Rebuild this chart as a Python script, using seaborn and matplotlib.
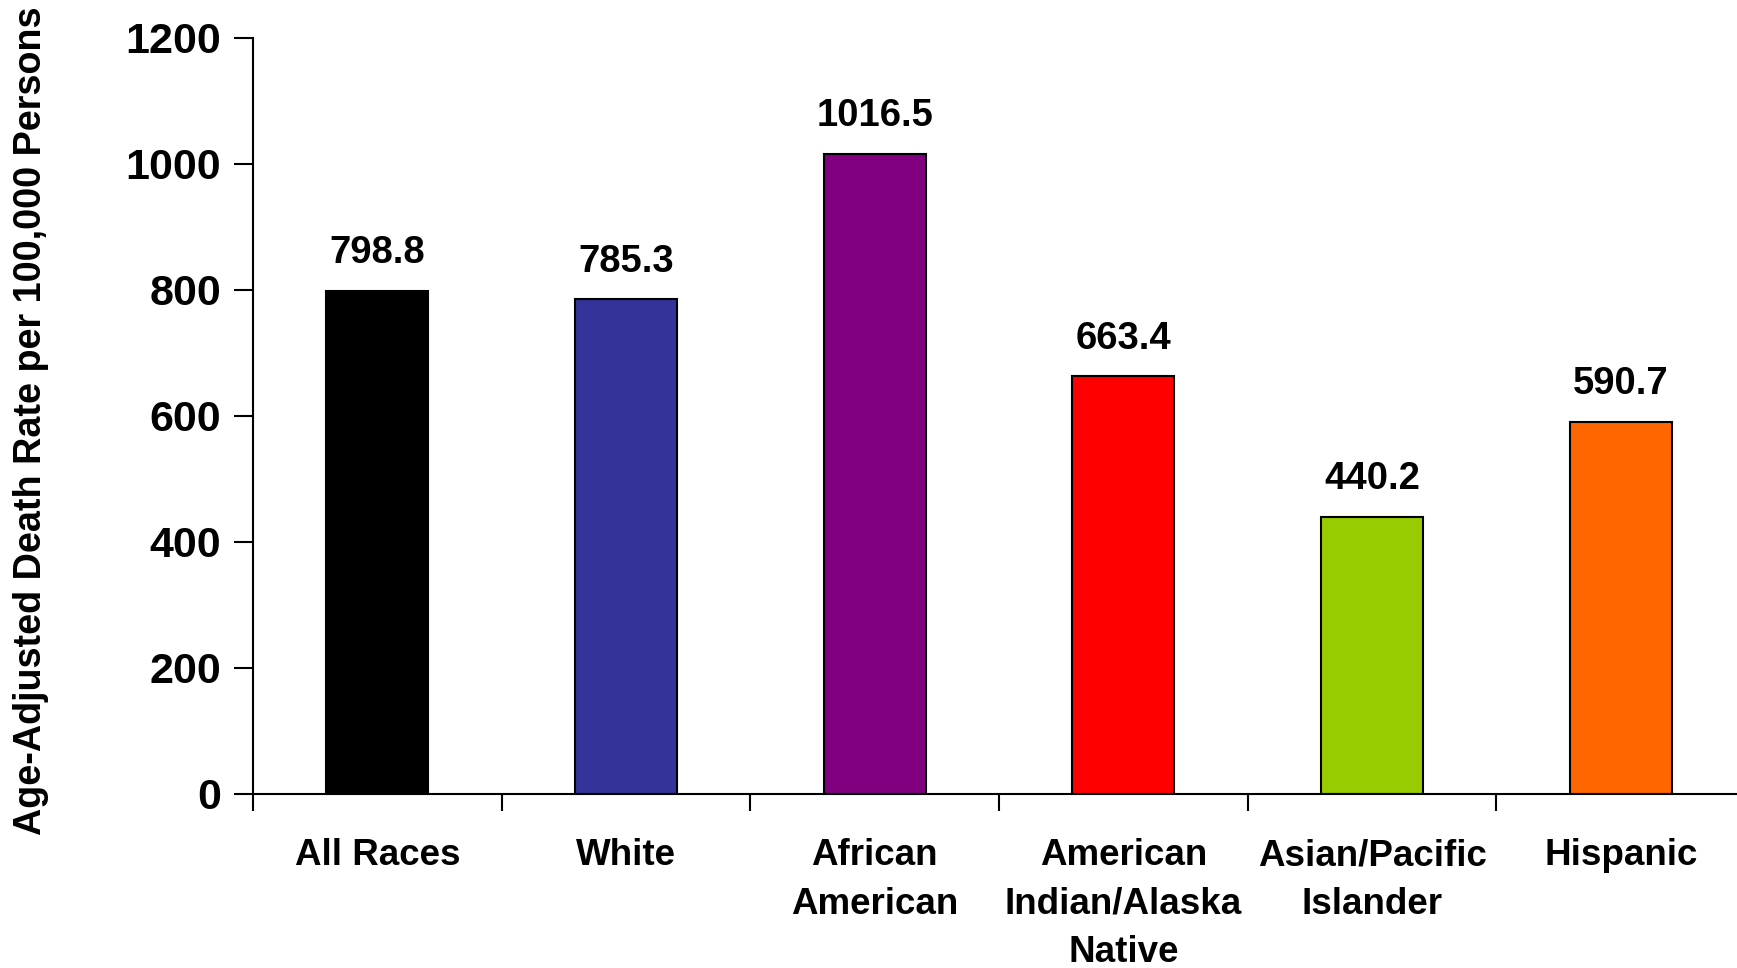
import matplotlib
matplotlib.use("Agg")
import matplotlib.pyplot as plt
import seaborn as sns
import pandas as pd

categories = ["All Races", "White", "African\nAmerican", "American\nIndian/Alaska\nNative",
              "Asian/Pacific\nIslander", "Hispanic"]
rates = [798.8, 785.3, 1016.5, 663.4, 440.2, 590.7]
bar_colors = ["#000000", "#333399", "#800080", "#FF0000", "#99CC00", "#FF6600"]
y_ticks = [0, 200, 400, 600, 800, 1000, 1200]

sns.set_theme(style="white")
plt.rcParams["font.family"] = ["Liberation Sans", "DejaVu Sans"]
plt.rcParams["font.weight"] = "bold"
plt.rcParams["text.color"] = "black"
plt.rcParams["axes.labelcolor"] = "black"
plt.rcParams["xtick.color"] = "black"
plt.rcParams["ytick.color"] = "black"

df = pd.DataFrame({"group": categories, "rate": rates})

fig = plt.figure(figsize=(17.37, 9.68), dpi=100)
ax = fig.add_axes([0.1457, 0.1798, 0.859, 0.781])

sns.barplot(data=df, x="group", y="rate", hue="group", palette=bar_colors,
            order=categories, hue_order=categories, dodge=False, legend=False,
            width=0.41, edgecolor="black", linewidth=1.5, saturation=1, ax=ax)

ax.set_ylim(0, 1200)
ax.set_xlim(-0.5, len(categories) - 0.5)
ax.set_yticks(y_ticks)
ax.set_yticklabels([str(v) for v in y_ticks], fontsize=31, fontweight="bold", color="black")

# category boundaries carry the tick marks, labels sit centred on the bars
ax.set_xticks([i + 0.5 for i in range(-1, len(categories))])
ax.set_xticklabels([])
ax.set_xticks(range(len(categories)), minor=True)
ax.set_xticklabels(categories, minor=True, fontsize=26.5, fontweight="bold",
                   linespacing=1.49, va="top", color="black")
ax.tick_params(axis="x", which="minor", length=0, pad=32)
ax.tick_params(axis="x", which="major", direction="out", length=12, width=1.5,
               color="black", bottom=True)
ax.tick_params(axis="y", direction="out", length=14, width=1.5, color="black",
               left=True, pad=9)

for side in ["top", "right"]:
    ax.spines[side].set_visible(False)
for side in ["left", "bottom"]:
    ax.spines[side].set_color("black")
    ax.spines[side].set_linewidth(1.5)

ax.set_xlabel("")
ax.set_ylabel("Age-Adjusted Death Rate per 100,000 Persons", fontsize=27.2,
              fontweight="bold", color="black")
ax.yaxis.set_label_coords(-0.1367, 0.493)

for i, v in enumerate(rates):
    ax.annotate(f"{v:.1f}", xy=(i, v), xytext=(0, 14), textcoords="offset points",
                ha="center", va="bottom", fontsize=27.5, fontweight="bold", color="black")

fig.savefig("out.png", dpi=100, facecolor="white")
